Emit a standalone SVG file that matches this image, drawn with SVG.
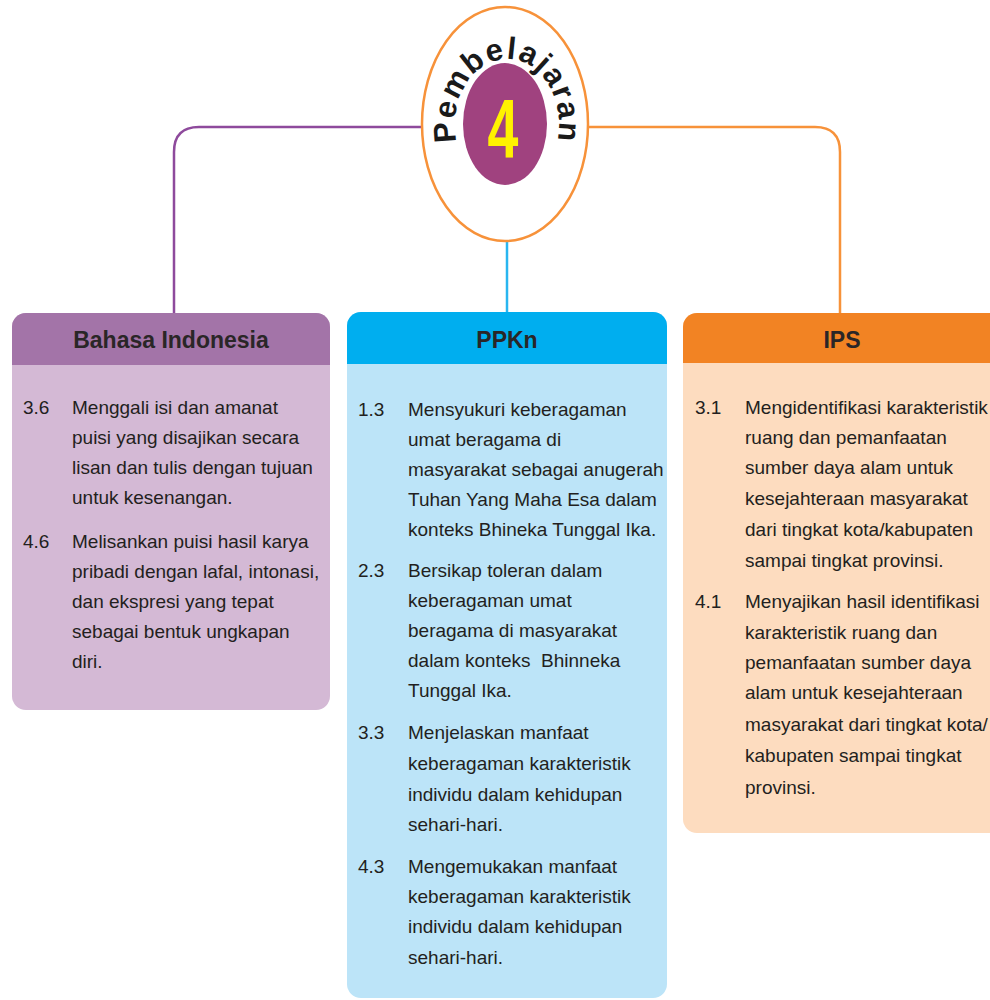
<svg xmlns="http://www.w3.org/2000/svg" width="990" height="1000" viewBox="0 0 990 1000">
<style>
.t{font-family:"Liberation Sans",Arial,sans-serif;font-size:19px;fill:#231f20}
.h{font-family:"Liberation Sans",Arial,sans-serif;font-size:23px;font-weight:bold;fill:#2a2627;text-anchor:middle}
.conn{fill:none;stroke-width:2.5}
</style>
<defs>
<path id="arc" d="M462,158 A52,66 0 1 1 552,158"/>
</defs>
<rect width="990" height="1000" fill="#ffffff"/>
<g id="connectors">
<path class="conn" stroke="#8e4a9c" d="M423,127 H199 Q174,127 174,152 V313"/>
<path class="conn" stroke="#f7923a" d="M588,127 H815 Q840,127 840,152 V313"/>
<path class="conn" stroke="#29b6f0" d="M507,240 V312"/>
</g>
<g id="center">
<ellipse cx="505" cy="124" rx="83" ry="117" fill="#ffffff" stroke="#f7923a" stroke-width="2.5"/>
<ellipse cx="505" cy="124" rx="42" ry="61" fill="#a0427f"/>
<text transform="translate(503,158) scale(0.66,1)" font-family="Liberation Sans,Arial,sans-serif" font-size="84" font-weight="bold" fill="#fff200" text-anchor="middle">4</text>
<text font-family="Liberation Sans,Arial,sans-serif" font-size="31" font-weight="bold" fill="#1a1a1a" text-anchor="middle" letter-spacing="1.5"><textPath href="#arc" startOffset="50%">Pembelajaran</textPath></text>
</g>
<g id="bahasa">
<rect x="12" y="313" width="318" height="397" rx="14" fill="#d4b9d5"/>
<path d="M12,365 V327 A14,14 0 0 1 26,313 H316 A14,14 0 0 1 330,327 V365 Z" fill="#a374a8"/>
<text class="h" x="171" y="348">Bahasa Indonesia</text>
<text class="t"><tspan x="23" y="414">3.6</tspan><tspan x="72" y="414">Menggali isi dan amanat</tspan><tspan x="72" y="444">puisi yang disajikan secara</tspan><tspan x="72" y="474">lisan dan tulis dengan tujuan</tspan><tspan x="72" y="504">untuk kesenangan.</tspan></text>
<text class="t"><tspan x="23" y="548">4.6</tspan><tspan x="72" y="548">Melisankan puisi hasil karya</tspan><tspan x="72" y="578">pribadi dengan lafal, intonasi,</tspan><tspan x="72" y="608">dan ekspresi yang tepat</tspan><tspan x="72" y="638">sebagai bentuk ungkapan</tspan><tspan x="72" y="668">diri.</tspan></text>
</g>
<g id="ppkn">
<rect x="347" y="312" width="320" height="686" rx="14" fill="#bce4f8"/>
<path d="M347,364 V326 A14,14 0 0 1 361,312 H653 A14,14 0 0 1 667,326 V364 Z" fill="#00aeef"/>
<text class="h" x="507" y="348">PPKn</text>
<text class="t"><tspan x="358" y="416">1.3</tspan><tspan x="408" y="416">Mensyukuri keberagaman</tspan><tspan x="408" y="446">umat beragama di</tspan><tspan x="408" y="476">masyarakat sebagai anugerah</tspan><tspan x="408" y="506">Tuhan Yang Maha Esa dalam</tspan><tspan x="408" y="536">konteks Bhineka Tunggal Ika.</tspan></text>
<text class="t"><tspan x="358" y="577">2.3</tspan><tspan x="408" y="577">Bersikap toleran dalam</tspan><tspan x="408" y="607">keberagaman umat</tspan><tspan x="408" y="637">beragama di masyarakat</tspan><tspan x="408" y="667" xml:space="preserve">dalam konteks  Bhinneka</tspan><tspan x="408" y="697">Tunggal Ika.</tspan></text>
<text class="t"><tspan x="358" y="739">3.3</tspan><tspan x="408" y="739">Menjelaskan manfaat</tspan><tspan x="408" y="770">keberagaman karakteristik</tspan><tspan x="408" y="801">individu dalam kehidupan</tspan><tspan x="408" y="831">sehari-hari.</tspan></text>
<text class="t"><tspan x="358" y="873">4.3</tspan><tspan x="408" y="873">Mengemukakan manfaat</tspan><tspan x="408" y="903">keberagaman karakteristik</tspan><tspan x="408" y="933">individu dalam kehidupan</tspan><tspan x="408" y="964">sehari-hari.</tspan></text>
</g>
<g id="ips">
<rect x="683" y="313" width="330" height="520" rx="14" fill="#fddcbf"/>
<path d="M683,363 V327 A14,14 0 0 1 697,313 H999 A14,14 0 0 1 1013,327 V363 Z" fill="#f28323"/>
<text class="h" x="842" y="348">IPS</text>
<text class="t"><tspan x="695" y="414">3.1</tspan><tspan x="745" y="414">Mengidentifikasi karakteristik</tspan><tspan x="745" y="444">ruang dan pemanfaatan</tspan><tspan x="745" y="474">sumber daya alam untuk</tspan><tspan x="745" y="505">kesejahteraan masyarakat</tspan><tspan x="745" y="536">dari tingkat kota/kabupaten</tspan><tspan x="745" y="567">sampai tingkat provinsi.</tspan></text>
<text class="t"><tspan x="695" y="608">4.1</tspan><tspan x="745" y="608">Menyajikan hasil identifikasi</tspan><tspan x="745" y="639">karakteristik ruang dan</tspan><tspan x="745" y="669">pemanfaatan sumber daya</tspan><tspan x="745" y="699">alam untuk kesejahteraan</tspan><tspan x="745" y="731">masyarakat dari tingkat kota/</tspan><tspan x="745" y="762">kabupaten sampai tingkat</tspan><tspan x="745" y="794">provinsi.</tspan></text>
</g>
</svg>
